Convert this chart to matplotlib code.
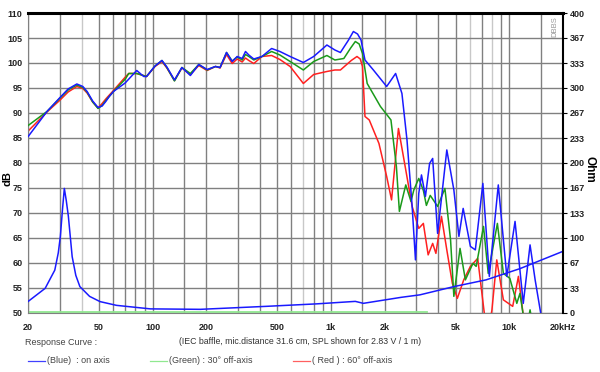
import matplotlib
matplotlib.use('Agg')
import matplotlib.pyplot as plt
from matplotlib.lines import Line2D

plt.rcParams['font.family'] = ['Liberation Sans', 'DejaVu Sans']

# on axis (blue)
blue_freq = [20, 25.5, 30, 33.5, 37.5, 40.5, 42.8, 46, 49.3, 52, 54.5, 57, 60.2, 70, 81.3, 89, 92.3,
             103, 112.6, 120, 132.4, 145.7,
             162.6, 181.2, 201.8, 224.9, 238.6, 259.4, 279, 297.8, 317.6, 331.4, 346, 369, 410,
             464.6, 517, 590, 700, 800, 949, 1052, 1130, 1250, 1336, 1410, 1475, 1552, 1730, 2054, 2306,
             2502, 2671, 2855, 2980, 3110, 3221, 3390, 3577, 3722, 3967, 4468, 4894, 5225, 5520,
             6060, 6460, 7120, 7740, 8690, 9700, 10790, 12000, 13100, 13990, 15040, 15400]
blue_db = [85.3, 90.3, 93.0, 94.8, 95.8, 95.3, 94.3, 92.4, 91.1, 91.4, 92.3, 93.3, 94.3, 96.0, 98.5, 97.3, 97.3,
           99.4, 100.5, 99.2, 96.6, 99.1,
           97.5, 99.7, 98.7, 99.3, 99.1, 102.1, 100.3, 101.3, 100.9, 102.3, 101.6, 100.8, 101.3,
           102.9, 102.3, 101.3, 100.1, 101.3, 103.6, 102.6, 102.1, 104.5, 106.3, 105.8, 104.6, 100.6, 98.6, 95.3, 97.9,
           93.9, 84.6, 71.3, 60.6, 73.9, 77.6, 73.3, 79.9, 80.9, 65.9, 82.6, 74.6, 65.3, 70.9,
           63.3, 62.6, 75.9, 57.3, 75.6, 57.3, 68.3, 51.9, 63.6, 56.6, 49.9, 48.0]

# 30 deg off axis (green)
green_freq = [20, 25.5, 30, 33.5, 37.5, 40.5, 42.8, 46, 49.3, 52, 54.5, 60.2, 70.2, 73.3, 81.3, 92.3,
              103, 112.6, 120, 132.4, 145.7,
              162.6, 181.2, 201.8, 224.9, 238.6, 259.4, 279, 297.8, 317.6, 331.4, 346, 369, 410,
              464.6, 517, 590, 700, 800, 949, 1052, 1181, 1290, 1370, 1440, 1503, 1597, 1895, 2171, 2329,
              2421, 2629, 2812, 2918, 3110, 3300, 3432, 3607, 3800, 3967, 4360, 4690, 4894, 5300,
              5680, 6260, 6530, 7180, 7630, 8590, 9280, 10090, 11040, 11500, 12000, 12300,
              12700, 13100, 13500]
green_db = [87.5, 90.3, 92.9, 94.6, 95.6, 95.1, 94.2, 92.2, 90.9, 91.5, 92.5, 94.3, 96.8, 97.9, 97.9, 97.3,
            99.4, 100.5, 99.1, 96.4, 99.1,
            97.9, 99.7, 98.6, 99.3, 99.1, 102.1, 100.4, 101.2, 100.6, 101.7, 101.3, 100.6, 101.3,
            102.3, 101.6, 100.3, 98.6, 100.3, 101.5, 100.6, 100.9, 103.0, 104.3, 103.8, 101.9, 95.9, 91.3, 88.6, 79.3,
            70.3, 75.6, 72.3, 74.6, 76.9, 74.5, 71.5, 73.5, 72.3, 71.3, 74.9, 64.6, 53.3, 62.9,
            56.6, 59.9, 59.3, 67.3, 57.9, 67.9, 57.9, 56.9, 51.9, 53.9, 49.5, 48.0,
            48.0, 50.6, 48.0]

# 60 deg off axis (red)
red_freq = [20, 25.5, 30, 33.5, 37.5, 40.5, 42.8, 46, 49.3, 52, 54.5, 60.2, 70.2, 73.3, 81.3, 92.3,
            103, 112.6, 120, 132.4, 145.7,
            162.6, 181.2, 201.8, 224.9, 238.6, 259.4, 279, 297.8, 317.6, 331.4, 346, 369, 410,
            464.6, 517, 590, 700, 800, 949, 1052, 1130, 1300, 1400, 1460, 1503, 1552, 1640, 1859, 2054,
            2188, 2392, 2629, 2855, 3110, 3300, 3511, 3722, 3881, 4170, 4468, 4800, 5120, 5560,
            6060, 6660, 7250, 7600, 8000, 8520, 9280, 10470, 11270, 12000, 12300]
red_db = [86.4, 90.2, 92.5, 94.2, 95.3, 94.9, 94.0, 92.2, 91.0, 91.9, 92.8, 94.5, 97.2, 97.9, 97.9, 97.3,
          99.3, 100.3, 99.0, 96.5, 99.0,
          97.7, 99.5, 98.5, 99.3, 99.0, 101.7, 99.9, 100.8, 100.2, 101.0, 100.5, 99.9, 101.3,
          101.5, 100.7, 99.3, 95.9, 97.7, 98.3, 98.6, 98.6, 100.5, 101.3, 100.8, 99.3, 89.3, 88.6, 83.9, 77.3,
          72.6, 86.9, 78.6, 71.3, 66.9, 67.9, 61.6, 63.9, 61.9, 69.3, 62.6, 55.9, 52.9, 56.6,
          59.3, 60.9, 50.0, 46.0, 50.5, 60.6, 52.6, 51.3, 57.3, 49.5, 48.0]

# impedance (blue, right axis, Ohm)
imp_freq = [20, 24.9, 28.2, 29.5, 30.3, 31.2, 31.9, 32.7, 33.6, 35.3, 37, 39, 44.2, 50.6, 62.6, 97,
            185, 435, 833, 1370, 1520, 2477, 3153, 4894, 7420, 11500, 20000]
imp_ohm = [15.3, 32.7, 57, 80, 102, 140, 166, 150, 129, 75, 50, 35, 22, 15, 10, 5.3,
           4.7, 8.7, 12, 15.3, 12.7, 20.7, 24, 35, 44, 59, 82]

grid_freqs = [20, 30, 40, 50, 60, 70, 80, 90, 100, 150, 200, 300, 400, 500, 600, 700, 800, 900,
              1000, 1500, 2000, 3000, 4000, 5000, 6000, 7000, 8000, 9000, 10000, 15000, 20000]
light_freqs = [40, 700, 6000, 8000]
xtick_vals = [20, 50, 100, 200, 500, 1000, 2000, 5000, 10000, 20000]
xtick_labels = ['20', '50', '100', '200', '500', '1k', '2k', '5k', '10k', '20kHz']
db_ticks = list(range(50, 111, 5))
ohm_ticks = [0, 33, 67, 100, 133, 167, 200, 233, 267, 300, 333, 367, 400]

fig = plt.figure(figsize=(6, 3.72), dpi=100)
ax = fig.add_axes([0.047, 0.159, 0.891, 0.806])
ax.set_xscale('log')
ax.set_xlim(20, 20000)
ax.set_ylim(50, 110)

for f in grid_freqs:
    c = '#c8c8c8' if f in light_freqs else '#808080'
    ax.axvline(f, color=c, lw=1.0, zorder=0)
for d in db_ticks:
    ax.axhline(d, color='#808080', lw=1.0, zorder=0)

ax.plot([20, 3450], [50.15, 50.15], color='#90e890', lw=1.3, zorder=1)
ax.plot(red_freq, red_db, color='#ff2020', lw=1.1, zorder=2)
ax.plot(green_freq, green_db, color='#1a9a1a', lw=1.1, zorder=3)
ax.plot(blue_freq, blue_db, color='#1a1aff', lw=1.1, zorder=4)

ax.set_xticks(xtick_vals)
ax.set_xticklabels(xtick_labels)
ax.minorticks_off()
ax.set_yticks(db_ticks)
ax.tick_params(axis='both', length=0, labelsize=6.5, pad=4)
for lab in ax.get_xticklabels() + ax.get_yticklabels():
    lab.set_fontweight('bold')
    lab.set_color('#222222')
ax.tick_params(axis='x', pad=7)

for s in ['left', 'bottom']:
    ax.spines[s].set_color('#808080')
ax.spines['top'].set_linewidth(2.2)
ax.spines['top'].set_color('black')
ax.spines['right'].set_visible(False)

ax2 = ax.twinx()
ax2.set_ylim(0, 400)
ax2.plot(imp_freq, imp_ohm, color='#1a1aff', lw=1.1)
ax2.set_yticks(ohm_ticks)
ax2.tick_params(axis='y', length=3, width=0.8, labelsize=6.5, pad=2)
for lab in ax2.get_yticklabels():
    lab.set_fontweight('bold')
    lab.set_color('#222222')
ax2.spines['right'].set_linewidth(1.5)
ax2.spines['right'].set_color('black')
ax2.spines['top'].set_visible(False)
ax2.spines['left'].set_visible(False)
ax2.spines['bottom'].set_visible(False)

ax.text(0.985, 0.99, 'DBBS', transform=ax.transAxes, rotation=90, fontsize=5.5,
        color='#999999', ha='center', va='top')

fig.text(0.013, 0.52, 'dB', rotation=90, fontsize=8, fontweight='bold', ha='center', va='center')
fig.text(0.983, 0.545, 'Ohm', rotation=270, fontsize=8.5, fontweight='bold', ha='center', va='center')

fig.text(0.5, 0.083, '(IEC baffle, mic.distance 31.6 cm, SPL shown for 2.83 V / 1 m)',
         fontsize=6.3, color='#333333', ha='center', va='center')
fig.text(0.042, 0.078, 'Response Curve :', fontsize=6.5, color='#444444', ha='left', va='center')

legend_items = [(0.047, '#4040ff', '(Blue)  : on axis'),
                (0.25, '#90e890', '(Green) : 30° off-axis'),
                (0.488, '#ff6060', '( Red ) : 60° off-axis')]
for x0, col, txt in legend_items:
    fig.add_artist(Line2D([x0, x0 + 0.028], [0.03, 0.03], color=col, lw=0.9,
                          transform=fig.transFigure))
    fig.text(x0 + 0.032, 0.03, txt, fontsize=6.5, color='#444444', ha='left', va='center')

fig.savefig('out.png', dpi=100)
